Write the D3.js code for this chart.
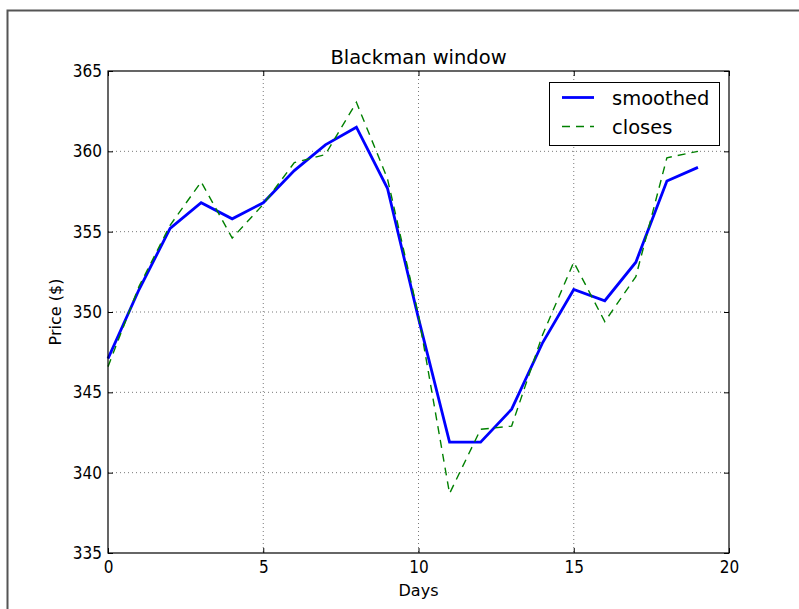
<!DOCTYPE html>
<html>
<head>
<meta charset="utf-8">
<script src="https://cdn.jsdelivr.net/npm/d3@7/dist/d3.min.js"></script>
<style>
  html, body { margin: 0; padding: 0; background: #fff; }
  svg { display: block; font-family: "DejaVu Sans", sans-serif; }
</style>
</head>
<body>
<svg id="chart" width="799" height="609"></svg>
<script>
// Daily closing prices and their Blackman-window smoothed version
const days = [0, 1, 2, 3, 4, 5, 6, 7, 8, 9, 10, 11, 12, 13, 14, 15, 16, 17, 18, 19];
const smoothed = [347.1, 351.4, 355.2, 356.8, 355.8, 356.8, 358.8, 360.4, 361.5, 357.7,
                  349.6, 341.9, 341.9, 343.95, 348.1, 351.4, 350.7, 353.1, 358.15, 359.0];
const closes = [346.6, 351.6, 355.4, 358.1, 354.6, 356.7, 359.3, 359.8, 363.05, 358.3,
                349.8, 338.7, 342.7, 342.9, 348.6, 353.1, 349.4, 352.2, 359.6, 360.0];
const xTicks = [0, 5, 10, 15, 20];
const yTicks = [335, 340, 345, 350, 355, 360, 365];

const svg = d3.select("#chart");
const plot = { left: 108, right: 729, top: 71, bottom: 553 };

const x = d3.scaleLinear().domain([0, 20]).range([plot.left, plot.right]);
const y = d3.scaleLinear().domain([335, 365]).range([plot.bottom, plot.top]);

// figure edge
svg.append("path")
  .attr("d", "M7.5,609 L7.5,10.5 L799,10.5")
  .attr("fill", "none").attr("stroke", "#555").attr("stroke-width", 2);

// dotted grid
const grid = svg.append("g").attr("stroke", "#000").attr("stroke-width", 0.7)
  .attr("stroke-dasharray", "1,3").attr("opacity", 0.75);
xTicks.slice(1, -1).forEach(t => grid.append("line")
  .attr("x1", x(t)).attr("x2", x(t)).attr("y1", plot.top).attr("y2", plot.bottom));
yTicks.slice(1, -1).forEach(t => grid.append("line")
  .attr("x1", plot.left).attr("x2", plot.right).attr("y1", y(t)).attr("y2", y(t)));

// series lines
const lineGen = d3.line().x((d, i) => x(days[i])).y(d => y(d));
svg.append("path").datum(smoothed)
  .attr("d", lineGen).attr("fill", "none")
  .attr("stroke", "#0000ff").attr("stroke-width", 2.8).attr("stroke-linejoin", "miter");
svg.append("path").datum(closes)
  .attr("d", lineGen).attr("fill", "none")
  .attr("stroke", "#008000").attr("stroke-width", 1.4).attr("stroke-dasharray", "8,6");

// axes with inward ticks on all sides
const tickLen = 5;
const axisStyle = g => {
  g.select(".domain").remove();
  g.selectAll(".tick line").attr("stroke", "#000").attr("stroke-width", 1);
  g.selectAll(".tick text").attr("font-family", "DejaVu Sans Condensed, DejaVu Sans")
    .attr("font-size", 17).attr("fill", "#000");
};
svg.append("g").attr("transform", `translate(0,${plot.bottom})`)
  .call(d3.axisBottom(x).tickValues(xTicks).tickFormat(d3.format("d"))
    .tickSizeInner(-tickLen).tickSizeOuter(0).tickPadding(8))
  .call(axisStyle);
svg.append("g").attr("transform", `translate(0,${plot.top})`)
  .call(d3.axisTop(x).tickValues(xTicks).tickFormat("")
    .tickSizeInner(-tickLen).tickSizeOuter(0))
  .call(axisStyle);
svg.append("g").attr("transform", `translate(${plot.left},0)`)
  .call(d3.axisLeft(y).tickValues(yTicks).tickFormat(d3.format("d"))
    .tickSizeInner(-tickLen).tickSizeOuter(0).tickPadding(6))
  .call(axisStyle);
svg.append("g").attr("transform", `translate(${plot.right},0)`)
  .call(d3.axisRight(y).tickValues(yTicks).tickFormat("")
    .tickSizeInner(-tickLen).tickSizeOuter(0))
  .call(axisStyle);

// plot frame
svg.append("rect")
  .attr("x", plot.left).attr("y", plot.top)
  .attr("width", plot.right - plot.left).attr("height", plot.bottom - plot.top)
  .attr("fill", "none").attr("stroke", "#000").attr("stroke-width", 1.2);

// title and axis labels
svg.append("text").attr("x", (plot.left + plot.right) / 2).attr("y", 64)
  .attr("text-anchor", "middle").attr("font-size", 19.5).text("Blackman window");
svg.append("text").attr("x", (plot.left + plot.right) / 2).attr("y", 596)
  .attr("text-anchor", "middle").attr("font-size", 16).text("Days");
svg.append("text")
  .attr("transform", `translate(61,${(plot.top + plot.bottom) / 2}) rotate(-90)`)
  .attr("text-anchor", "middle").attr("font-size", 16).text("Price ($)");

// legend
const legend = svg.append("g");
legend.append("rect").attr("x", 549.5).attr("y", 82.5).attr("width", 170).attr("height", 63)
  .attr("fill", "#fff").attr("stroke", "#000").attr("stroke-width", 1);
const entries = [
  { label: "smoothed", color: "#0000ff", width: 2.8, dash: null, yPos: 97.5 },
  { label: "closes", color: "#008000", width: 1.4, dash: "8,6", yPos: 126.5 }
];
entries.forEach(e => {
  legend.append("line").attr("x1", 562).attr("x2", 594).attr("y1", e.yPos).attr("y2", e.yPos)
    .attr("stroke", e.color).attr("stroke-width", e.width)
    .attr("stroke-dasharray", e.dash);
  legend.append("text").attr("x", 612).attr("y", e.yPos + 7)
    .attr("font-size", 19.5).text(e.label);
});
</script>
</body>
</html>
